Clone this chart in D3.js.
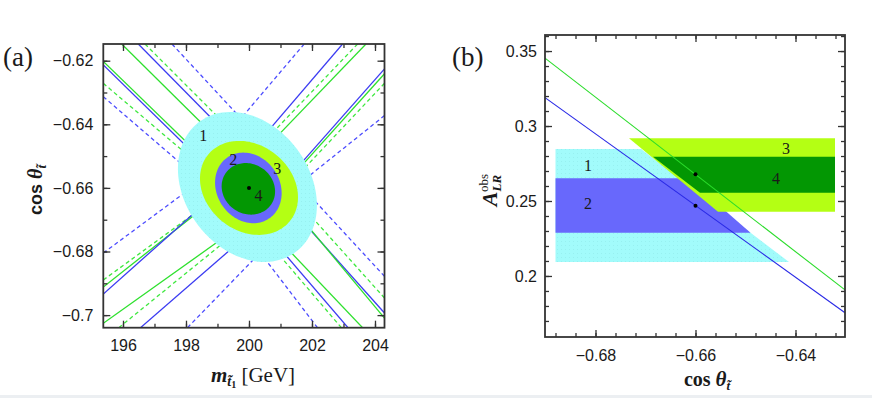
<!DOCTYPE html>
<html>
<head>
<meta charset="utf-8">
<script src="https://cdn.jsdelivr.net/npm/d3@7"></script>
<style>
body { margin: 0; background: #fff; }
svg { display: block; }
</style>
</head>
<body>
<div id="chart"></div>
<script>
// ---------- panel (a): m_stop vs cos theta ----------
const aXMajor = [196, 198, 200, 202, 204];
const aXMinor = [196, 197, 198, 199, 200, 201, 202, 203, 204];
const aYMajor = [-0.62, -0.64, -0.66, -0.68, -0.70];
const aYMinor = [-0.62, -0.63, -0.64, -0.65, -0.66, -0.67, -0.68, -0.69, -0.70];

// fit regions, drawn outer to inner
const regionLabel = ["1", "3", "2", "4"];
const regionCenter = [[199.95, -0.6597], [200.0, -0.6600], [199.98, -0.6600], [199.98, -0.6603]];
const regionHalfWidth = [2.206, 1.556, 1.057, 0.848];
const regionHalfHeight = [0.02358, 0.01478, 0.0111, 0.00811];
const regionCorr = [-0.244, -0.2, -0.15, -0.1];
const regionTextPos = { "1": [198.55, -0.6434], "2": [199.50, -0.6512], "3": [200.90, -0.6538], "4": [200.30, -0.6624] };
const aBestFit = [200.0, -0.660];

// contour arms (start at the frame, end under the ellipses)
const contourKind = [
  "green-central", "blue-central", "green-band", "blue-band",
  "blue-band", "blue-central", "green-band", "green-central",
  "blue-central", "green-central", "green-band", "blue-band",
  "blue-band", "green-band", "green-central", "blue-central",
  "green-central", "green-band", "blue-central", "blue-band",
  "blue-band", "green-band", "blue-central", "green-central",
  "blue-central", "green-central", "green-band", "blue-band",
  "blue-central", "green-central", "green-band", "blue-band"
];
const contourFrom = [
  [195.959, -0.61475], [196.486, -0.61475], [196.698, -0.61475], [197.556, -0.61475],
  [201.752, -0.61475], [202.971, -0.61475], [203.448, -0.61475], [203.714, -0.61475],
  [195.375, -0.62135], [195.375, -0.62025], [195.375, -0.62711], [195.375, -0.63132],
  [195.375, -0.68047], [195.375, -0.68896], [195.375, -0.69116], [195.375, -0.69336],
  [195.375, -0.70258], [195.867, -0.70396], [196.556, -0.70396], [198.048, -0.70396],
  [202.175, -0.70396], [202.933, -0.70396], [203.143, -0.70396], [203.606, -0.70396],
  [204.302, -0.62258], [204.302, -0.62412], [204.302, -0.62711], [204.302, -0.63726],
  [204.302, -0.69934], [204.302, -0.70094], [204.302, -0.69462], [204.302, -0.68780]
];
const contourTo = [
  [199.238, -0.64689], [199.397, -0.64399], [199.460, -0.64211], [199.873, -0.63953],
  [199.714, -0.63852], [200.190, -0.64695], [200.413, -0.64613], [200.603, -0.64679],
  [198.921, -0.65569], [198.921, -0.65431], [198.603, -0.65428], [198.444, -0.65748],
  [198.286, -0.65912], [198.603, -0.66563], [198.762, -0.66465], [198.762, -0.66349],
  [199.397, -0.67421], [199.460, -0.67509], [199.714, -0.67679], [200.190, -0.68204],
  [200.413, -0.68110], [200.667, -0.67770], [200.825, -0.67717], [200.984, -0.67664],
  [201.302, -0.65620], [201.302, -0.65710], [201.365, -0.65796], [201.619, -0.65852],
  [201.460, -0.66783], [201.460, -0.66717], [201.524, -0.66399], [201.619, -0.65906]
];

// ---------- panel (b): cos theta vs A_LR^obs ----------
const bXMajor = [-0.68, -0.66, -0.64];
const bXMinor = [-0.688, -0.684, -0.680, -0.676, -0.672, -0.668, -0.664, -0.660, -0.656,
                 -0.652, -0.648, -0.644, -0.640, -0.636, -0.632];
const bYMajor = [0.35, 0.30, 0.25, 0.20];
const bYMinor = [0.17, 0.18, 0.19, 0.20, 0.21, 0.22, 0.23, 0.24, 0.25, 0.26, 0.27,
                 0.28, 0.29, 0.30, 0.31, 0.32, 0.33, 0.34, 0.35, 0.36];

const bandLabel = ["1", "2", "3", "4"];
const bandCorners = [
  [[-0.688, 0.2847], [-0.6709, 0.2847], [-0.6413, 0.2093], [-0.688, 0.2093]],
  [[-0.688, 0.2651], [-0.6615, 0.2651], [-0.6490, 0.2289], [-0.688, 0.2289]],
  [[-0.6733, 0.2918], [-0.6321, 0.2918], [-0.6321, 0.2429], [-0.6555, 0.2429]],
  [[-0.6685, 0.2795], [-0.6321, 0.2795], [-0.6321, 0.2555], [-0.6591, 0.2555]]
];
const bandTextPos = [[-0.6815, 0.274], [-0.6815, 0.248], [-0.6419, 0.2853], [-0.6439, 0.2647]];
const predBlue = [[-0.6901, 0.3189], [-0.6301, 0.1755]];
const predGreen = [[-0.6901, 0.3453], [-0.6301, 0.1907]];
const bPoints = [[-0.66, 0.2678], [-0.66, 0.2469]];

// ---------- styles ----------
const lineStyle = {
  "blue-central": { stroke: "#3b3bf2", dash: null },
  "blue-band": { stroke: "#4d4dff", dash: "4,3" },
  "green-central": { stroke: "#2ee02e", dash: null },
  "green-band": { stroke: "#3fe83f", dash: "4,3" }
};
const fillColor = { "1": "url(#dots)", "2": "#6868fc", "3": "#b4ff14", "4": "#039703" };
const serif = "'Liberation Serif', 'Times New Roman', serif";
const sans = "'Liberation Sans', Arial, sans-serif";
const ink = "#1a1a1a";

const svg = d3.select("#chart").append("svg").attr("width", 872).attr("height", 398);
const defs = svg.append("defs");
const pat = defs.append("pattern").attr("id", "dots").attr("width", 4).attr("height", 4)
  .attr("patternUnits", "userSpaceOnUse");
pat.append("rect").attr("width", 4).attr("height", 4).attr("fill", "#a2fbfb");
pat.append("rect").attr("x", 1).attr("y", 1).attr("width", 1).attr("height", 1).attr("fill", "#97f0f0");

svg.append("rect").attr("x", 0).attr("y", 395).attr("width", 872).attr("height", 3).attr("fill", "#eceff2");

const xa = d3.scaleLinear().domain([195.375, 204.302]).range([103.3, 384.5]);
const ya = d3.scaleLinear().domain([-0.70396, -0.61475]).range([327.7, 44]);
const xb = d3.scaleLinear().domain([-0.6901, -0.6301]).range([545, 845]);
const yb = d3.scaleLinear().domain([0.1593, 0.3607]).range([337, 35]);

function addClip(id, x, y) {
  defs.append("clipPath").attr("id", id).append("rect")
    .attr("x", x.range()[0]).attr("y", y.range()[1])
    .attr("width", x.range()[1] - x.range()[0]).attr("height", y.range()[0] - y.range()[1]);
}
addClip("clipA", xa, ya);
addClip("clipB", xb, yb);

function frameAxes(x, y, xMajor, xMinor, yMajor, yMinor, padX, padY) {
  const [x0, x1] = x.range();
  const [y0, y1] = y.range();
  const fmt = d3.format("~g");
  const g = svg.append("g");
  const put = (axis, vals, size, f, pad, tr) => {
    const a = g.append("g").attr("transform", tr)
      .call(axis.tickValues(vals).tickSize(-size).tickPadding(pad).tickFormat(f));
    a.select(".domain").remove();
    a.selectAll("line").attr("stroke", "#333").attr("stroke-width", 1.3);
    a.attr("font-family", sans).attr("font-size", 16);
    a.selectAll("text").attr("fill", ink);
  };
  put(d3.axisBottom(x), xMinor, 4, "", 0, `translate(0,${y0})`);
  put(d3.axisBottom(x), xMajor, 7, fmt, padX, `translate(0,${y0})`);
  put(d3.axisTop(x), xMinor, 4, "", 0, `translate(0,${y1})`);
  put(d3.axisTop(x), xMajor, 7, "", 0, `translate(0,${y1})`);
  put(d3.axisLeft(y), yMinor, 4, "", 0, `translate(${x0},0)`);
  put(d3.axisLeft(y), yMajor, 7, fmt, padY, `translate(${x0},0)`);
  put(d3.axisRight(y), yMinor, 4, "", 0, `translate(${x1},0)`);
  put(d3.axisRight(y), yMajor, 7, "", 0, `translate(${x1},0)`);
  g.append("rect").attr("x", x0).attr("y", y1).attr("width", x1 - x0).attr("height", y0 - y1)
    .attr("fill", "none").attr("stroke", "#333").attr("stroke-width", 1.8);
}

// ---------- draw panel (a) ----------
const pa = svg.append("g").attr("clip-path", "url(#clipA)");
pa.append("g").selectAll("path").data(contourKind).join("path")
  .attr("d", (k, i) => d3.line()([[xa(contourFrom[i][0]), ya(contourFrom[i][1])],
                                   [xa(contourTo[i][0]), ya(contourTo[i][1])]]))
  .attr("fill", "none")
  .attr("stroke", k => lineStyle[k].stroke)
  .attr("stroke-width", 1.3)
  .attr("stroke-dasharray", k => lineStyle[k].dash);

function ellipsePath(i) {
  const c = regionCenter[i], sx = regionHalfWidth[i], sy = regionHalfHeight[i], r = regionCorr[i];
  const pts = d3.range(0, 360, 3).map(a => {
    const t = a * Math.PI / 180;
    return [xa(c[0] + sx * Math.cos(t)),
            ya(c[1] + sy * (r * Math.cos(t) + Math.sqrt(1 - r * r) * Math.sin(t)))];
  });
  return d3.line().curve(d3.curveLinearClosed)(pts);
}
pa.append("g").selectAll("path").data(regionLabel).join("path")
  .attr("d", (d, i) => ellipsePath(i))
  .attr("fill", d => fillColor[d]);

pa.append("circle").attr("cx", xa(aBestFit[0])).attr("cy", ya(aBestFit[1])).attr("r", 2).attr("fill", "#000");

svg.append("g").selectAll("text").data(Object.keys(regionTextPos)).join("text")
  .attr("x", d => xa(regionTextPos[d][0]))
  .attr("y", d => ya(regionTextPos[d][1]) + 5.5)
  .attr("text-anchor", "middle")
  .attr("font-family", serif).attr("font-size", 16).attr("fill", ink)
  .text(d => d);

frameAxes(xa, ya, aXMajor, aXMinor, aYMajor, aYMinor, 12, 10);

// ---------- draw panel (b) ----------
const pb = svg.append("g").attr("clip-path", "url(#clipB)");
pb.append("g").selectAll("path").data(bandLabel).join("path")
  .attr("d", (d, i) => d3.line().curve(d3.curveLinearClosed)(bandCorners[i].map(p => [xb(p[0]), yb(p[1])])))
  .attr("fill", d => fillColor[d]);

pb.append("path").attr("d", d3.line()(predBlue.map(p => [xb(p[0]), yb(p[1])])))
  .attr("stroke", "#2a2ae6").attr("stroke-width", 1.1).attr("fill", "none");
pb.append("path").attr("d", d3.line()(predGreen.map(p => [xb(p[0]), yb(p[1])])))
  .attr("stroke", "#2bdc2b").attr("stroke-width", 1.1).attr("fill", "none");
pb.selectAll("circle").data(bPoints).join("circle")
  .attr("cx", d => xb(d[0])).attr("cy", d => yb(d[1])).attr("r", 2).attr("fill", "#000");

svg.append("g").selectAll("text").data(bandLabel).join("text")
  .attr("x", (d, i) => xb(bandTextPos[i][0]))
  .attr("y", (d, i) => yb(bandTextPos[i][1]) + 5.5)
  .attr("text-anchor", "middle")
  .attr("font-family", serif).attr("font-size", 16).attr("fill", ink)
  .text(d => d);

frameAxes(xb, yb, bXMajor, bXMinor, bYMajor, bYMinor, 13, 8);

// ---------- titles ----------
svg.append("text").attr("x", 3).attr("y", 66).attr("font-family", serif).attr("font-size", 27)
  .attr("fill", ink).text("(a)");
svg.append("text").attr("x", 452).attr("y", 66).attr("font-family", serif).attr("font-size", 27)
  .attr("fill", ink).text("(b)");

// x label (a)
svg.append("text").attr("x", 253).attr("y", 382).attr("text-anchor", "middle")
  .attr("font-family", serif).attr("font-size", 21).attr("fill", ink)
  .call(t => {
    t.append("tspan").attr("font-weight", "bold").attr("font-style", "italic").text("m");
    t.append("tspan").attr("font-weight", "bold").attr("font-style", "italic")
      .attr("font-size", 14).attr("dy", 4).text("t\u0303");
    t.append("tspan").attr("font-weight", "bold").attr("font-size", 10).attr("dy", 2).text("1");
    t.append("tspan").attr("dy", -6).text(" [GeV]");
  });

// y label (a)
svg.append("text").attr("transform", "translate(42,190) rotate(-90)").attr("text-anchor", "middle")
  .attr("font-size", 18).attr("fill", ink)
  .call(t => {
    t.append("tspan").attr("font-family", sans).attr("font-weight", "bold").text("cos ");
    t.append("tspan").attr("font-family", serif).attr("font-weight", "bold").attr("font-style", "italic")
      .attr("font-size", 20).text("\u03b8");
    t.append("tspan").attr("font-family", serif).attr("font-weight", "bold").attr("font-style", "italic")
      .attr("font-size", 13).attr("dy", 4).text("t\u0303");
  });

// x label (b)
svg.append("text").attr("x", 707).attr("y", 386).attr("text-anchor", "middle")
  .attr("font-family", serif).attr("font-size", 20).attr("fill", ink)
  .call(t => {
    t.append("tspan").attr("font-weight", "bold").text("cos ");
    t.append("tspan").attr("font-weight", "bold").attr("font-style", "italic").attr("font-size", 21).text("\u03b8");
    t.append("tspan").attr("font-weight", "bold").attr("font-style", "italic")
      .attr("font-size", 13).attr("dy", 4).text("t\u0303");
  });

// y label (b)
svg.append("text").attr("transform", "translate(497,190) rotate(-90)").attr("text-anchor", "middle")
  .attr("font-family", serif).attr("fill", ink)
  .call(t => {
    t.append("tspan").attr("font-weight", "bold").attr("font-style", "italic").attr("font-size", 22).text("A");
    t.append("tspan").attr("font-weight", "bold").attr("font-style", "italic").attr("font-size", 13)
      .attr("dy", 4).text("LR");
    t.append("tspan").attr("font-size", 13).attr("dx", -17).attr("dy", -13).text("obs");
  });
</script>
</body>
</html>
